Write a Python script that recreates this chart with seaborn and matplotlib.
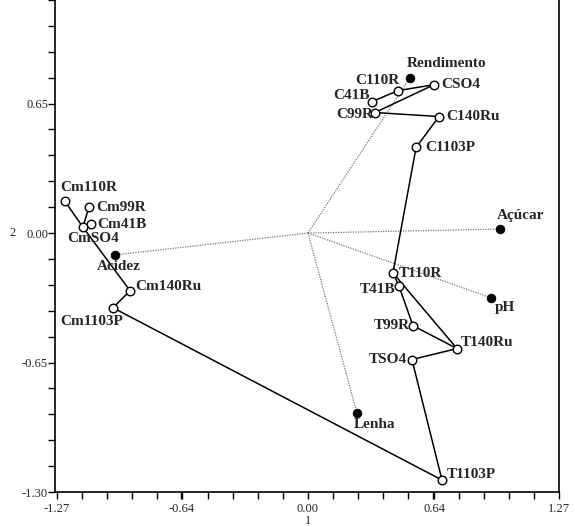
"""
Biplot: treatments (open circles) and variables (filled dots, dotted vectors).
"""

import numpy as np
import pandas as pd
import matplotlib
matplotlib.use('Agg')
import matplotlib.pyplot as plt
import seaborn as sns

# Treatment scores (component 1, component 2)
treat_names = ['Cm110R', 'Cm99R', 'Cm41B', 'CmSO4', 'Cm140Ru', 'Cm1103P',
               'C110R', 'CSO4', 'C41B', 'C99R', 'C140Ru', 'C1103P',
               'T110R', 'T41B', 'T99R', 'T140Ru', 'TSO4', 'T1103P']
treat_x = [-1.23, -1.108, -1.098, -1.139, -0.90, -0.987,
           0.455, 0.638, 0.324, 0.339, 0.663, 0.547,
           0.43, 0.46, 0.531, 0.754, 0.526, 0.678]
treat_y = [0.16, 0.13, 0.045, 0.03, -0.29, -0.375,
           0.715, 0.745, 0.66, 0.605, 0.585, 0.43,
           -0.20, -0.265, -0.465, -0.58, -0.635, -1.24]

# Variable loadings
var_names = ['Rendimento', 'Açúcar', 'pH', 'Lenha', 'Acidez']
var_x = [0.516, 0.972, 0.926, 0.248, -0.977]
var_y = [0.78, 0.02, -0.325, -0.905, -0.11]

# Links between treatments
edges = [('Cm110R', 'CmSO4'), ('Cm99R', 'CmSO4'), ('Cm41B', 'CmSO4'),
         ('CmSO4', 'Cm140Ru'), ('Cm140Ru', 'Cm1103P'), ('Cm1103P', 'T1103P'),
         ('T1103P', 'TSO4'), ('TSO4', 'T140Ru'), ('T140Ru', 'T99R'),
         ('T99R', 'T41B'), ('T41B', 'T110R'), ('T110R', 'T140Ru'),
         ('T110R', 'C1103P'), ('C1103P', 'C140Ru'), ('C140Ru', 'C99R'),
         ('C99R', 'CSO4'), ('CSO4', 'C110R'), ('C110R', 'C41B')]

# Label offsets in pixels: (dx, dy, ha)
label_pos = {
    'Cm110R': (-5, 14, 'left'), 'Cm99R': (7, 0, 'left'), 'Cm41B': (6, 0, 'left'),
    'CmSO4': (-16, -11, 'left'), 'Cm140Ru': (5, 4, 'left'), 'Cm1103P': (-53, -14, 'left'),
    'C110R': (2, 10, 'right'), 'CSO4': (7, 0, 'left'), 'C41B': (-2, 6, 'right'),
    'C99R': (-2, -2, 'right'), 'C140Ru': (7, 0, 'left'), 'C1103P': (9, 0, 'left'),
    'T110R': (6, -1, 'left'), 'T41B': (-4, -4, 'right'), 'T99R': (-3, 0, 'right'),
    'T140Ru': (4, 6, 'left'), 'TSO4': (-5, 0, 'right'), 'T1103P': (5, 6, 'left'),
    'Rendimento': (-3, 14, 'left'), 'Açúcar': (-3, 14, 'left'), 'pH': (4, -10, 'left'),
    'Lenha': (-3, -11, 'left'), 'Acidez': (-18, -12, 'left'),
}

sns.set_style('ticks')
plt.rcParams['font.family'] = ['Liberation Serif', 'DejaVu Serif']

treat = pd.DataFrame({'name': treat_names, 'x': treat_x, 'y': treat_y})
var = pd.DataFrame({'name': var_names, 'x': var_x, 'y': var_y})

fig = plt.figure(figsize=(5.75, 5.27), dpi=100)
ax = fig.add_axes([55 / 575, 35 / 527, 504 / 575, 492 / 527])

# Dotted vectors from origin
for _, r in var.iterrows():
    ax.plot([0, r['x']], [0, r['y']], color='#777777', linestyle=(0, (1, 1)),
            linewidth=0.9, zorder=1)

# Solid links
pos = treat.set_index('name')
for a, b in edges:
    ax.plot([pos.loc[a, 'x'], pos.loc[b, 'x']], [pos.loc[a, 'y'], pos.loc[b, 'y']],
            color='black', linewidth=1.1, zorder=2)

sns.scatterplot(data=treat, x='x', y='y', ax=ax, s=38, marker='o',
                facecolor='white', edgecolor='black', linewidth=1.0, zorder=3)
sns.scatterplot(data=var, x='x', y='y', ax=ax, s=40, marker='o',
                color='black', edgecolor='black', linewidth=0.5, zorder=3)

for df in (treat, var):
    for _, r in df.iterrows():
        dx, dy, ha = label_pos[r['name']]
        ax.annotate(r['name'], (r['x'], r['y']), xytext=(dx, dy),
                    textcoords='offset pixels', ha=ha, va='center',
                    fontsize=11, fontweight='bold', zorder=4)

ax.set_xlim(-1.28, 1.27)
ax.set_ylim(-1.30, 1.17)
ax.set_xticks([-1.27, -0.64, 0.0, 0.64, 1.27])
ax.set_xticklabels(['-1.27', '-0.64', '0.00', '0.64', '1.27'])
ax.set_xticks(np.arange(-1.27, 1.28, 0.127), minor=True)
ax.set_yticks([-1.30, -0.65, 0.0, 0.65])
ax.set_yticklabels(['-1.30', '-0.65', '0.00', '0.65'])
ax.set_yticks(np.arange(-1.30, 1.18, 0.13), minor=True)

ax.tick_params(axis='both', which='both', direction='out', length=5, width=1,
               labelsize=9, color='black')
ax.tick_params(axis='y', pad=0)
ax.tick_params(axis='x', pad=3)

for side in ['left', 'bottom', 'right']:
    ax.spines[side].set_linewidth(1.2)
    ax.spines[side].set_color('black')
ax.spines['top'].set_visible(False)

ax.set_xlabel('1', fontsize=9, va='center')
ax.set_ylabel('2', fontsize=9, rotation=0, va='center')
ax.xaxis.set_label_coords(0.502, -0.058)
ax.yaxis.set_label_coords(-0.085, 0.526)

plt.savefig('out.png', dpi=100)
plt.close()
